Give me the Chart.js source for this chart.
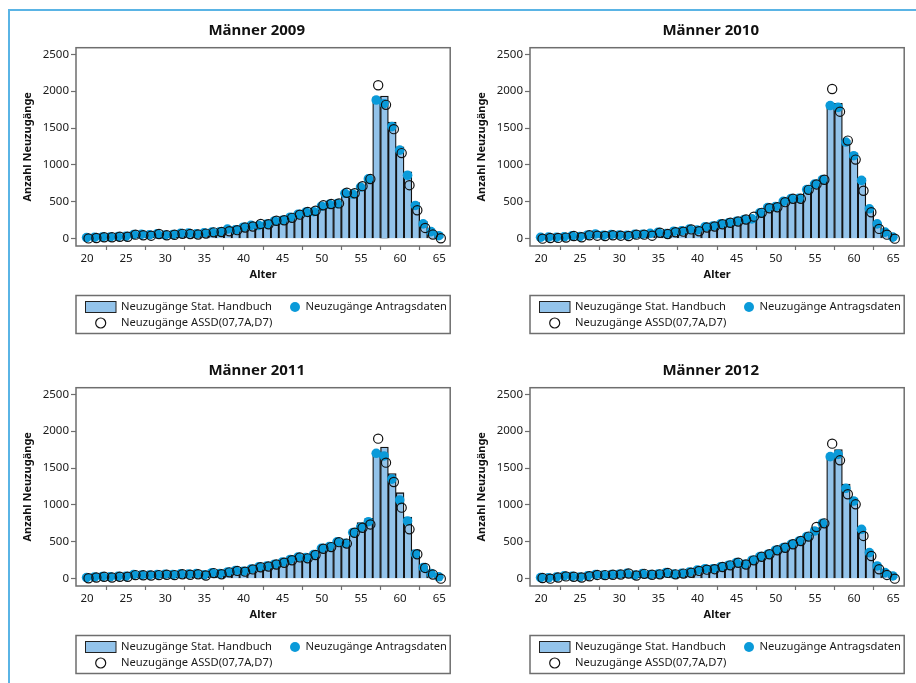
<!DOCTYPE html>
<html lang="de">
<head>
<meta charset="utf-8">
<title>Neuzugänge Männer 2009–2012</title>
<script src="https://cdn.jsdelivr.net/npm/chart.js@4.4.1/dist/chart.umd.min.js"></script>
<style>
  html, body { margin: 0; padding: 0; background: #fff; }
  #rahmen { position: absolute; left: 8px; top: 9px; width: 910px; height: 676px;
            border-left: 2px solid #5ab4e5; border-top: 2px solid #5ab4e5; }
  .panel { position: absolute; width: 456px; height: 340px; }
</style>
</head>
<body>
<div id="rahmen"></div>
<div class="panel" style="left:0;top:0"><canvas id="c2009" width="456" height="340"></canvas></div>
<div class="panel" style="left:454px;top:0"><canvas id="c2010" width="456" height="340"></canvas></div>
<div class="panel" style="left:0;top:340px"><canvas id="c2011" width="456" height="340"></canvas></div>
<div class="panel" style="left:454px;top:340px"><canvas id="c2012" width="456" height="340"></canvas></div>
<script>
// Alter 20 bis 65
const ages = [20,21,22,23,24,25,26,27,28,29,30,31,32,33,34,35,36,37,38,39,40,41,42,
              43,44,45,46,47,48,49,50,51,52,53,54,55,56,57,58,59,60,61,62,63,64,65];
const xTickValues = [20,25,30,35,40,45,50,55,60,65];
const yTickValues = [0,500,1000,1500,2000,2500];

// Männer 2009
const handbuch2009 = [12,15,20,22,28,32,52,55,52,62,52,58,72,72,65,78,90,95,115,125,152,175,190,
                      205,240,258,290,330,365,390,455,475,490,625,635,712,815,1925,1935,1580,1245,905,490,230,110,45];
const antrag2009   = [15,18,22,22,28,30,55,58,52,65,50,55,72,75,65,78,88,92,130,120,155,180,180,
                      198,240,250,290,330,360,365,440,465,475,615,605,700,810,1880,1830,1520,1200,860,450,200,95,40];
const assd2009     = [3,8,18,18,25,25,54,45,40,63,45,52,65,62,55,68,85,90,100,115,150,165,200,
                      195,242,250,282,325,362,378,452,470,478,622,615,712,808,2080,1815,1485,1160,725,385,145,55,5];

// Männer 2010
const handbuch2010 = [18,20,18,25,38,30,50,60,45,55,52,48,58,60,68,85,68,100,108,130,120,162,175,
                      202,218,238,262,280,352,420,435,505,545,548,668,742,805,1835,1835,1338,1160,820,420,215,115,28];
const antrag2010   = [18,20,18,25,38,28,50,63,45,55,50,45,58,60,72,85,68,100,105,130,118,160,172,
                      200,215,235,260,268,350,420,435,505,545,548,665,740,800,1805,1780,1310,1125,790,405,200,88,20];
const assd2010     = [0,8,10,14,35,18,45,40,36,45,40,36,54,54,40,80,62,86,95,125,100,150,165,
                      195,215,232,260,298,350,412,425,495,540,540,662,735,798,2030,1722,1330,1072,650,358,132,54,0];

// Männer 2011
const handbuch2011 = [12,20,28,22,30,30,52,50,48,55,58,55,65,60,66,50,78,68,88,110,102,130,160,
                      172,198,222,262,295,285,330,415,440,533,511,660,760,818,1731,1786,1424,1166,836,389,172,80,20];
const antrag2011   = [15,22,28,25,32,30,55,50,48,55,60,55,65,62,68,52,80,68,90,110,100,130,160,
                      170,195,225,260,292,285,325,410,435,500,480,625,695,772,1700,1664,1350,1067,782,335,150,70,25];
const assd2011     = [5,15,25,15,25,25,48,45,42,48,52,48,60,52,60,42,75,60,85,105,95,125,155,
                      165,192,215,250,288,275,320,405,428,495,475,622,690,735,1899,1573,1311,963,669,330,145,55,0];

// Männer 2012
const handbuch2012 = [10,8,18,36,28,20,36,55,50,55,60,72,48,68,55,60,82,62,72,85,115,135,140,
                      160,185,218,200,252,300,335,388,425,470,515,575,690,760,1668,1750,1284,1085,678,375,180,85,22];
const antrag2012   = [15,12,20,38,30,22,38,55,50,56,60,72,48,70,56,62,82,62,72,88,115,135,135,
                      160,182,218,195,250,298,330,385,420,465,510,570,646,752,1655,1686,1225,1053,669,353,172,81,36];
const assd2012     = [8,0,15,30,25,15,32,50,48,52,55,70,42,65,52,58,78,58,68,80,105,122,128,
                      158,180,216,192,248,296,330,384,418,466,511,570,700,750,1831,1605,1144,1008,579,307,127,50,0];

const panels = [
  { id: 'c2009', title: 'Männer 2009', bars: handbuch2009, antrag: antrag2009, assd: assd2009 },
  { id: 'c2010', title: 'Männer 2010', bars: handbuch2010, antrag: antrag2010, assd: assd2010 },
  { id: 'c2011', title: 'Männer 2011', bars: handbuch2011, antrag: antrag2011, assd: assd2011 },
  { id: 'c2012', title: 'Männer 2012', bars: handbuch2012, antrag: antrag2012, assd: assd2012 }
];

const schrift = '"Noto Sans", Lato, sans-serif';
Chart.defaults.font.family = schrift;
Chart.defaults.font.size = 11.5;
Chart.defaults.color = '#1a1a1a';

const barFill = '#93c3ea';
const dotBlue = '#0a9ad9';

// Titel, Rahmen um die Zeichenfläche und Legendenkasten unter dem Diagramm
const rahmenUndLegende = {
  id: 'rahmenUndLegende',
  afterDatasetsDraw(chart) {
    const a = chart.chartArea, ctx = chart.ctx;
    ctx.save();
    ctx.strokeStyle = '#6e6e6e';
    ctx.lineWidth = 1.5;
    ctx.strokeRect(a.left, a.top, a.right - a.left, a.bottom - a.top);
    ctx.restore();
  },
  afterDraw(chart, args, opts) {
    const a = chart.chartArea, ctx = chart.ctx;
    const ds = chart.data.datasets;
    ctx.save();

    // Titel über dem Diagramm
    ctx.font = 'bold 15px ' + schrift;
    ctx.fillStyle = '#111';
    ctx.textAlign = 'center';
    ctx.textBaseline = 'middle';
    ctx.fillText(opts.titel, 256.7, 30.7);

    const boxTop = 295.5, boxH = 38;
    ctx.strokeStyle = '#6e6e6e';
    ctx.lineWidth = 1.5;
    ctx.strokeRect(a.left, boxTop, a.right - a.left, boxH);

    ctx.font = '11.2px ' + schrift;
    ctx.textAlign = 'left';
    const row1 = boxTop + 11.5, row2 = boxTop + 27.5;

    // Balken-Symbol
    const bar = ds.find(d => d.type === 'bar');
    ctx.fillStyle = bar.backgroundColor;
    ctx.fillRect(a.left + 9.5, row1 - 5.5, 30.5, 11);
    ctx.strokeStyle = '#222';
    ctx.lineWidth = 1;
    ctx.strokeRect(a.left + 9.5, row1 - 5.5, 30.5, 11);
    ctx.fillStyle = '#1a1a1a';
    ctx.fillText(bar.label, a.left + 45, row1);

    // gefüllter Punkt
    const dot = ds.find(d => d.label.indexOf('Antrag') >= 0);
    ctx.beginPath();
    ctx.arc(a.left + 219, row1, 5, 0, Math.PI * 2);
    ctx.fillStyle = dot.backgroundColor;
    ctx.fill();
    ctx.fillStyle = '#1a1a1a';
    ctx.fillText(dot.label, a.left + 229.5, row1);

    // offener Kreis
    const ring = ds.find(d => d.label.indexOf('ASSD') >= 0);
    ctx.beginPath();
    ctx.arc(a.left + 24.7, row2, 5, 0, Math.PI * 2);
    ctx.strokeStyle = ring.borderColor;
    ctx.lineWidth = 1.2;
    ctx.stroke();
    ctx.fillText(ring.label, a.left + 45, row2);
    ctx.restore();
  }
};

panels.forEach(p => {
  const ctx = document.getElementById(p.id).getContext('2d');
  new Chart(ctx, {
    type: 'bar',
    data: {
      datasets: [
        {
          type: 'line',
          label: 'Neuzugänge ASSD(07,7A,D7)',
          data: ages.map((a, i) => ({ x: a + 0.2, y: p.assd[i] })),
          showLine: false,
          pointRadius: 4.6,
          pointBackgroundColor: 'rgba(0,0,0,0)',
          backgroundColor: 'rgba(0,0,0,0)',
          borderColor: '#111',
          pointBorderColor: '#111',
          pointBorderWidth: 1.2,
          order: 0,
          clip: false
        },
        {
          type: 'line',
          label: 'Neuzugänge Antragsdaten',
          data: ages.map((a, i) => ({ x: a - 0.05, y: p.antrag[i] })),
          showLine: false,
          pointRadius: 4.8,
          pointBackgroundColor: dotBlue,
          backgroundColor: dotBlue,
          pointBorderWidth: 0,
          order: 1,
          clip: false
        },
        {
          type: 'bar',
          label: 'Neuzugänge Stat. Handbuch',
          data: ages.map((a, i) => ({ x: a, y: p.bars[i] })),
          backgroundColor: barFill,
          borderColor: '#111',
          borderWidth: 1.3,
          barPercentage: 1,
          categoryPercentage: 1,
          order: 2
        }
      ]
    },
    options: {
      responsive: false,
      animation: false,
      layout: { padding: { left: 0, right: 2, top: 47.7, bottom: 58.6 } },
      plugins: {
        legend: { display: false },
        tooltip: { enabled: false },
        title: { display: false },
        rahmenUndLegende: { titel: p.title }
      },
      scales: {
        x: {
          type: 'linear',
          min: 18.6,
          max: 66.4,
          offset: false,
          afterFit(s) { s.height = 35.4; },
          afterBuildTicks(s) { s.ticks = xTickValues.map(v => ({ value: v })); },
          ticks: { padding: 2, maxRotation: 0, autoSkip: false, callback: v => String(v) },
          grid: { drawOnChartArea: false, drawTicks: true, tickLength: 4, tickColor: '#6e6e6e', tickWidth: 1.2 },
          border: { display: false },
          title: { display: true, text: 'Alter', color: '#111', font: { size: 11, weight: 'bold' }, padding: { top: 0, bottom: 0 } }
        },
        y: {
          min: -100,
          max: 2590,
          afterFit(s) { s.width = 76; },
          afterBuildTicks(s) { s.ticks = yTickValues.map(v => ({ value: v })); },
          ticks: { padding: 2, callback: v => String(v) },
          grid: { drawOnChartArea: false, drawTicks: true, tickLength: 5, tickColor: '#6e6e6e', tickWidth: 1.2 },
          border: { display: false },
          title: { display: true, text: 'Anzahl Neuzugänge', color: '#111', font: { size: 11, weight: 'bold' }, padding: { top: 21.7, bottom: 0 } }
        }
      }
    },
    plugins: [rahmenUndLegende]
  });
});
</script>
</body>
</html>
